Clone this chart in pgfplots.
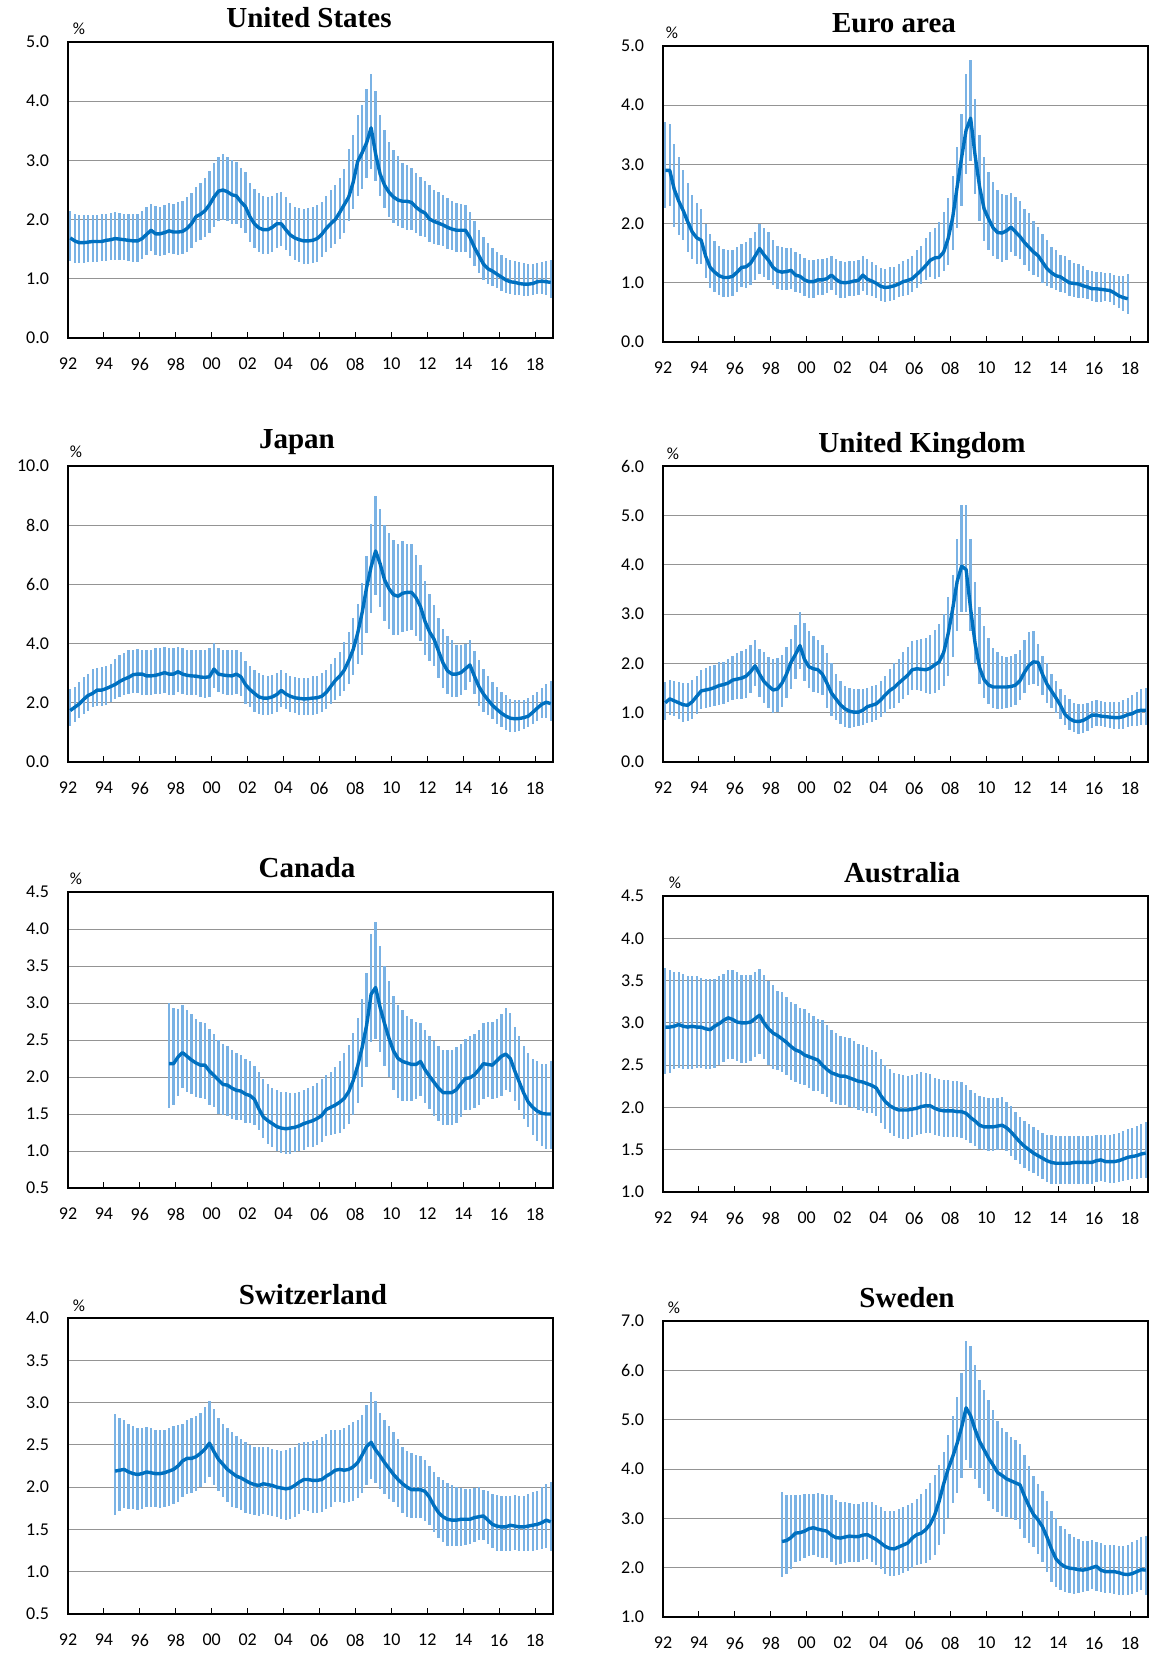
\documentclass[border=0pt]{standalone}
\usepackage{fontspec}
\setmainfont{Carlito}
\newfontfamily\titlefont{Liberation Serif}
\usepackage{pgfplots}
\usepackage{pgfplotstable}
\pgfplotsset{compat=1.18}
\definecolor{lineblue}{RGB}{0,112,192}
\definecolor{barblue}{RGB}{122,178,228}

\pgfplotstableread{
x m l h
1992.125 1.69 1.30 2.15
1992.375 1.64 1.27 2.10
1992.625 1.61 1.26 2.08
1992.875 1.61 1.27 2.08
1993.125 1.62 1.28 2.08
1993.375 1.63 1.29 2.07
1993.625 1.63 1.29 2.08
1993.875 1.63 1.30 2.09
1994.125 1.65 1.30 2.10
1994.375 1.66 1.31 2.11
1994.625 1.68 1.32 2.12
1994.875 1.67 1.32 2.11
1995.125 1.66 1.31 2.10
1995.375 1.65 1.30 2.10
1995.625 1.64 1.29 2.10
1995.875 1.64 1.29 2.10
1996.125 1.68 1.33 2.15
1996.375 1.75 1.40 2.22
1996.625 1.82 1.47 2.27
1996.875 1.76 1.40 2.23
1997.125 1.76 1.39 2.22
1997.375 1.78 1.40 2.24
1997.625 1.81 1.43 2.28
1997.875 1.79 1.42 2.27
1998.125 1.79 1.41 2.29
1998.375 1.80 1.42 2.32
1998.625 1.85 1.46 2.38
1998.875 1.93 1.52 2.45
1999.125 2.05 1.62 2.55
1999.375 2.09 1.66 2.62
1999.625 2.15 1.70 2.70
1999.875 2.25 1.78 2.82
2000.125 2.38 1.88 2.95
2000.375 2.48 1.97 3.05
2000.625 2.50 2.00 3.10
2000.875 2.47 1.97 3.05
2001.125 2.42 1.93 3.00
2001.375 2.40 1.92 2.98
2001.625 2.30 1.85 2.88
2001.875 2.22 1.78 2.80
2002.125 2.05 1.63 2.62
2002.375 1.93 1.52 2.52
2002.625 1.86 1.45 2.45
2002.875 1.83 1.42 2.40
2003.125 1.83 1.42 2.38
2003.375 1.87 1.45 2.40
2003.625 1.93 1.52 2.45
2003.875 1.93 1.55 2.47
2004.125 1.83 1.48 2.38
2004.375 1.74 1.38 2.28
2004.625 1.69 1.32 2.22
2004.875 1.66 1.28 2.20
2005.125 1.64 1.25 2.18
2005.375 1.64 1.25 2.20
2005.625 1.65 1.26 2.22
2005.875 1.68 1.28 2.25
2006.125 1.75 1.36 2.30
2006.375 1.85 1.45 2.40
2006.625 1.93 1.52 2.50
2006.875 2.00 1.58 2.58
2007.125 2.12 1.67 2.70
2007.375 2.25 1.78 2.85
2007.625 2.38 1.98 3.19
2007.875 2.63 2.18 3.43
2008.125 2.98 2.40 3.76
2008.375 3.13 2.52 3.94
2008.625 3.30 2.70 4.21
2008.875 3.55 2.85 4.46
2009.125 3.11 2.65 4.18
2009.375 2.77 2.40 3.77
2009.625 2.58 2.20 3.52
2009.875 2.46 2.05 3.31
2010.125 2.38 1.95 3.17
2010.375 2.33 1.90 3.07
2010.625 2.31 1.85 2.95
2010.875 2.31 1.83 2.92
2011.125 2.29 1.82 2.88
2011.375 2.21 1.78 2.78
2011.625 2.15 1.73 2.72
2011.875 2.11 1.70 2.65
2012.125 2.01 1.62 2.58
2012.375 1.97 1.58 2.50
2012.625 1.94 1.57 2.47
2012.875 1.91 1.55 2.42
2013.125 1.87 1.50 2.37
2013.375 1.84 1.48 2.32
2013.625 1.82 1.46 2.28
2013.875 1.82 1.45 2.27
2014.125 1.82 1.45 2.25
2014.375 1.70 1.35 2.13
2014.625 1.53 1.22 1.97
2014.875 1.39 1.10 1.82
2015.125 1.25 0.98 1.70
2015.375 1.17 0.92 1.60
2015.625 1.13 0.88 1.52
2015.875 1.08 0.84 1.45
2016.125 1.03 0.80 1.40
2016.375 0.98 0.76 1.35
2016.625 0.95 0.74 1.32
2016.875 0.94 0.73 1.30
2017.125 0.92 0.72 1.28
2017.375 0.91 0.71 1.27
2017.625 0.91 0.71 1.25
2017.875 0.92 0.72 1.25
2018.125 0.95 0.74 1.27
2018.375 0.96 0.75 1.28
2018.625 0.95 0.73 1.30
2018.875 0.94 0.68 1.31
}\dUS

\pgfplotstableread{
x m l h
1992.125 2.90 2.27 3.72
1992.375 2.90 2.30 3.68
1992.625 2.58 1.95 3.35
1992.875 2.38 1.80 3.13
1993.125 2.22 1.72 2.90
1993.375 2.03 1.52 2.68
1993.625 1.86 1.40 2.48
1993.875 1.76 1.32 2.35
1994.125 1.72 1.32 2.25
1994.375 1.45 1.08 2.00
1994.625 1.26 0.92 1.82
1994.875 1.18 0.85 1.70
1995.125 1.12 0.80 1.63
1995.375 1.09 0.76 1.57
1995.625 1.09 0.76 1.55
1995.875 1.11 0.78 1.56
1996.125 1.18 0.85 1.60
1996.375 1.26 0.93 1.65
1996.625 1.27 0.92 1.69
1996.875 1.33 0.97 1.75
1997.125 1.45 1.05 1.85
1997.375 1.58 1.15 2.00
1997.625 1.47 1.10 1.93
1997.875 1.38 1.05 1.85
1998.125 1.26 0.96 1.72
1998.375 1.20 0.90 1.63
1998.625 1.18 0.88 1.60
1998.875 1.19 0.88 1.58
1999.125 1.21 0.90 1.58
1999.375 1.13 0.85 1.52
1999.625 1.11 0.82 1.48
1999.875 1.05 0.78 1.42
2000.125 1.02 0.75 1.38
2000.375 1.02 0.75 1.38
2000.625 1.05 0.80 1.40
2000.875 1.05 0.80 1.40
2001.125 1.07 0.82 1.42
2001.375 1.13 0.87 1.45
2001.625 1.06 0.80 1.40
2001.875 1.01 0.75 1.37
2002.125 1.00 0.74 1.35
2002.375 1.01 0.77 1.36
2002.625 1.03 0.78 1.37
2002.875 1.04 0.80 1.38
2003.125 1.13 0.86 1.45
2003.375 1.06 0.80 1.40
2003.625 1.03 0.78 1.35
2003.875 0.99 0.74 1.30
2004.125 0.94 0.70 1.25
2004.375 0.92 0.68 1.24
2004.625 0.93 0.70 1.26
2004.875 0.95 0.71 1.27
2005.125 0.98 0.76 1.32
2005.375 1.02 0.78 1.37
2005.625 1.04 0.80 1.40
2005.875 1.07 0.85 1.45
2006.125 1.14 0.92 1.55
2006.375 1.21 0.98 1.63
2006.625 1.29 1.05 1.75
2006.875 1.38 1.10 1.85
2007.125 1.42 1.07 1.92
2007.375 1.43 1.10 2.03
2007.625 1.52 1.20 2.20
2007.875 1.75 1.30 2.44
2008.125 2.10 1.55 2.80
2008.375 2.62 1.92 3.30
2008.625 3.12 2.30 3.85
2008.875 3.58 2.83 4.53
2009.125 3.78 3.05 4.77
2009.375 3.15 2.50 4.10
2009.625 2.62 2.05 3.50
2009.875 2.25 1.70 3.12
2010.125 2.08 1.55 2.87
2010.375 1.93 1.45 2.70
2010.625 1.85 1.40 2.57
2010.875 1.84 1.35 2.50
2011.125 1.88 1.38 2.48
2011.375 1.94 1.52 2.51
2011.625 1.86 1.45 2.45
2011.875 1.78 1.40 2.38
2012.125 1.68 1.30 2.25
2012.375 1.60 1.20 2.18
2012.625 1.52 1.13 2.05
2012.875 1.46 1.10 1.95
2013.125 1.35 1.00 1.83
2013.375 1.24 0.95 1.72
2013.625 1.17 0.92 1.60
2013.875 1.12 0.88 1.55
2014.125 1.10 0.85 1.47
2014.375 1.05 0.83 1.45
2014.625 1.00 0.78 1.38
2014.875 0.99 0.76 1.33
2015.125 0.98 0.75 1.31
2015.375 0.95 0.74 1.28
2015.625 0.93 0.72 1.22
2015.875 0.90 0.70 1.20
2016.125 0.90 0.68 1.18
2016.375 0.89 0.68 1.18
2016.625 0.88 0.70 1.17
2016.875 0.87 0.68 1.17
2017.125 0.83 0.62 1.14
2017.375 0.78 0.57 1.12
2017.625 0.75 0.52 1.12
2017.875 0.73 0.48 1.15
}\dEA

\pgfplotstableread{
x m l h
1992.125 1.74 1.23 2.45
1992.375 1.85 1.35 2.55
1992.625 1.96 1.48 2.70
1992.875 2.12 1.62 2.88
1993.125 2.25 1.72 2.97
1993.375 2.32 1.85 3.15
1993.625 2.43 1.88 3.18
1993.875 2.43 1.90 3.20
1994.125 2.48 1.92 3.25
1994.375 2.55 2.02 3.30
1994.625 2.62 2.12 3.48
1994.875 2.72 2.20 3.60
1995.125 2.80 2.25 3.68
1995.375 2.86 2.30 3.78
1995.625 2.95 2.32 3.80
1995.875 2.97 2.32 3.82
1996.125 2.97 2.25 3.78
1996.375 2.91 2.25 3.78
1996.625 2.91 2.28 3.80
1996.875 2.93 2.30 3.85
1997.125 2.97 2.30 3.85
1997.375 3.02 2.32 3.90
1997.625 2.97 2.28 3.85
1997.875 2.97 2.28 3.85
1998.125 3.05 2.35 3.90
1998.375 2.97 2.30 3.85
1998.625 2.93 2.27 3.80
1998.875 2.91 2.25 3.80
1999.125 2.90 2.25 3.80
1999.375 2.87 2.18 3.78
1999.625 2.86 2.15 3.78
1999.875 2.88 2.20 3.85
2000.125 3.14 2.50 4.02
2000.375 2.97 2.35 3.85
2000.625 2.94 2.30 3.80
2000.875 2.92 2.28 3.78
2001.125 2.91 2.28 3.78
2001.375 2.97 2.30 3.78
2001.625 2.88 2.22 3.70
2001.875 2.62 1.95 3.40
2002.125 2.45 1.85 3.25
2002.375 2.32 1.70 3.10
2002.625 2.20 1.62 3.00
2002.875 2.16 1.58 2.95
2003.125 2.16 1.58 2.92
2003.375 2.20 1.62 2.95
2003.625 2.28 1.70 3.00
2003.875 2.42 1.85 3.10
2004.125 2.30 1.80 3.00
2004.375 2.22 1.70 2.92
2004.625 2.17 1.65 2.88
2004.875 2.15 1.60 2.85
2005.125 2.13 1.58 2.85
2005.375 2.14 1.58 2.85
2005.625 2.16 1.60 2.90
2005.875 2.17 1.62 2.92
2006.125 2.22 1.68 3.00
2006.375 2.35 1.78 3.10
2006.625 2.55 1.95 3.30
2006.875 2.75 2.10 3.50
2007.125 2.90 2.22 3.72
2007.375 3.10 2.40 4.05
2007.625 3.42 2.65 4.40
2007.875 3.80 2.95 4.85
2008.125 4.35 3.30 5.35
2008.375 5.05 3.60 6.05
2008.625 5.90 4.35 6.95
2008.875 6.60 5.05 8.04
2009.125 7.13 5.65 9.00
2009.375 6.70 5.25 8.56
2009.625 6.15 4.75 8.00
2009.875 5.85 4.50 7.73
2010.125 5.65 4.30 7.50
2010.375 5.60 4.30 7.37
2010.625 5.70 4.38 7.48
2010.875 5.73 4.42 7.36
2011.125 5.73 4.45 7.36
2011.375 5.55 4.25 7.00
2011.625 5.25 4.10 6.66
2011.875 4.75 3.60 6.10
2012.125 4.40 3.40 5.69
2012.375 4.15 3.25 5.32
2012.625 3.75 2.85 4.85
2012.875 3.35 2.50 4.50
2013.125 3.08 2.30 4.26
2013.375 2.97 2.20 4.12
2013.625 2.97 2.20 3.95
2013.875 3.02 2.25 3.95
2014.125 3.15 2.42 3.97
2014.375 3.28 2.70 4.13
2014.625 2.90 2.30 3.75
2014.875 2.55 1.90 3.45
2015.125 2.30 1.70 3.15
2015.375 2.10 1.58 2.90
2015.625 1.92 1.45 2.70
2015.875 1.78 1.30 2.55
2016.125 1.65 1.18 2.35
2016.375 1.55 1.08 2.25
2016.625 1.48 1.03 2.12
2016.875 1.46 1.03 2.10
2017.125 1.47 1.05 2.08
2017.375 1.50 1.10 2.08
2017.625 1.55 1.18 2.15
2017.875 1.68 1.30 2.25
2018.125 1.82 1.40 2.35
2018.375 1.95 1.48 2.50
2018.625 2.02 1.50 2.65
2018.875 1.97 1.40 2.75
}\dJP

\pgfplotstableread{
x m l h
1992.125 1.20 0.85 1.63
1992.375 1.28 0.95 1.67
1992.625 1.24 0.93 1.65
1992.875 1.20 0.88 1.62
1993.125 1.16 0.82 1.60
1993.375 1.15 0.83 1.60
1993.625 1.22 0.88 1.67
1993.875 1.33 0.97 1.75
1994.125 1.44 1.08 1.87
1994.375 1.46 1.10 1.90
1994.625 1.48 1.12 1.95
1994.875 1.51 1.13 1.97
1995.125 1.55 1.15 2.02
1995.375 1.57 1.18 2.03
1995.625 1.60 1.22 2.08
1995.875 1.66 1.25 2.15
1996.125 1.68 1.27 2.20
1996.375 1.70 1.28 2.25
1996.625 1.74 1.30 2.30
1996.875 1.83 1.40 2.38
1997.125 1.95 1.55 2.48
1997.375 1.78 1.32 2.30
1997.625 1.63 1.20 2.22
1997.875 1.54 1.10 2.13
1998.125 1.46 1.00 2.08
1998.375 1.48 1.02 2.10
1998.625 1.60 1.12 2.17
1998.875 1.78 1.30 2.33
1999.125 2.02 1.48 2.50
1999.375 2.18 1.68 2.77
1999.625 2.36 1.88 3.05
1999.875 2.08 1.65 2.82
2000.125 1.93 1.50 2.65
2000.375 1.89 1.42 2.55
2000.625 1.87 1.40 2.48
2000.875 1.78 1.35 2.38
2001.125 1.60 1.10 2.20
2001.375 1.40 0.93 2.00
2001.625 1.28 0.85 1.78
2001.875 1.16 0.77 1.65
2002.125 1.08 0.70 1.55
2002.375 1.03 0.68 1.50
2002.625 1.01 0.70 1.47
2002.875 1.01 0.72 1.47
2003.125 1.05 0.75 1.48
2003.375 1.12 0.80 1.50
2003.625 1.15 0.82 1.55
2003.875 1.18 0.85 1.57
2004.125 1.26 0.92 1.65
2004.375 1.36 1.00 1.75
2004.625 1.45 1.08 1.88
2004.875 1.51 1.10 2.00
2005.125 1.60 1.20 2.08
2005.375 1.68 1.28 2.23
2005.625 1.76 1.35 2.33
2005.875 1.87 1.45 2.45
2006.125 1.89 1.45 2.48
2006.375 1.88 1.43 2.50
2006.625 1.87 1.40 2.52
2006.875 1.90 1.38 2.58
2007.125 1.97 1.40 2.68
2007.375 2.03 1.45 2.80
2007.625 2.22 1.55 3.00
2007.875 2.60 1.75 3.35
2008.125 3.10 2.13 3.80
2008.375 3.66 2.65 4.52
2008.625 3.97 3.05 5.20
2008.875 3.90 3.05 5.20
2009.125 3.10 2.65 4.53
2009.375 2.40 2.00 3.65
2009.625 1.91 1.58 3.15
2009.875 1.67 1.30 2.75
2010.125 1.56 1.18 2.52
2010.375 1.52 1.10 2.32
2010.625 1.52 1.08 2.22
2010.875 1.52 1.08 2.15
2011.125 1.52 1.10 2.13
2011.375 1.53 1.12 2.15
2011.625 1.56 1.15 2.18
2011.875 1.65 1.25 2.27
2012.125 1.82 1.40 2.47
2012.375 1.96 1.57 2.63
2012.625 2.03 1.58 2.65
2012.875 2.02 1.55 2.40
2013.125 1.78 1.35 2.15
2013.375 1.58 1.20 2.00
2013.625 1.44 1.10 1.78
2013.875 1.30 1.00 1.65
2014.125 1.15 0.88 1.48
2014.375 0.97 0.75 1.35
2014.625 0.88 0.65 1.27
2014.875 0.83 0.60 1.20
2015.125 0.82 0.57 1.18
2015.375 0.84 0.58 1.18
2015.625 0.89 0.62 1.20
2015.875 0.95 0.68 1.24
2016.125 0.95 0.72 1.25
2016.375 0.93 0.72 1.23
2016.625 0.92 0.70 1.22
2016.875 0.91 0.68 1.22
2017.125 0.90 0.67 1.22
2017.375 0.90 0.66 1.22
2017.625 0.92 0.67 1.25
2017.875 0.96 0.70 1.30
2018.125 0.98 0.72 1.35
2018.375 1.03 0.73 1.42
2018.625 1.05 0.74 1.48
2018.875 1.05 0.74 1.50
}\dUK

\pgfplotstableread{
x m l h
1997.625 2.18 1.58 3.00
1997.875 2.18 1.62 2.93
1998.125 2.27 1.75 2.92
1998.375 2.33 1.85 2.97
1998.625 2.28 1.80 2.90
1998.875 2.23 1.77 2.85
1999.125 2.19 1.73 2.78
1999.375 2.16 1.72 2.75
1999.625 2.16 1.70 2.73
1999.875 2.08 1.62 2.65
2000.125 2.02 1.60 2.58
2000.375 1.96 1.50 2.50
2000.625 1.90 1.48 2.45
2000.875 1.89 1.47 2.42
2001.125 1.85 1.43 2.37
2001.375 1.82 1.42 2.33
2001.625 1.81 1.42 2.30
2001.875 1.77 1.38 2.25
2002.125 1.75 1.38 2.22
2002.375 1.70 1.35 2.15
2002.625 1.57 1.28 2.07
2002.875 1.46 1.17 1.97
2003.125 1.41 1.10 1.90
2003.375 1.37 1.05 1.85
2003.625 1.33 1.00 1.82
2003.875 1.31 0.97 1.80
2004.125 1.30 0.96 1.80
2004.375 1.31 0.96 1.78
2004.625 1.32 0.98 1.78
2004.875 1.34 1.00 1.80
2005.125 1.37 1.02 1.82
2005.375 1.39 1.05 1.85
2005.625 1.41 1.06 1.88
2005.875 1.44 1.08 1.92
2006.125 1.48 1.12 1.97
2006.375 1.56 1.20 2.03
2006.625 1.59 1.22 2.07
2006.875 1.62 1.23 2.13
2007.125 1.66 1.25 2.22
2007.375 1.71 1.30 2.33
2007.625 1.80 1.37 2.43
2007.875 1.95 1.48 2.60
2008.125 2.15 1.65 2.80
2008.375 2.40 1.86 3.05
2008.625 2.70 2.13 3.40
2008.875 3.12 2.47 3.93
2009.125 3.21 2.52 4.10
2009.375 2.94 2.34 3.77
2009.625 2.72 2.15 3.50
2009.875 2.52 2.00 3.30
2010.125 2.35 1.83 3.10
2010.375 2.25 1.72 2.97
2010.625 2.21 1.68 2.90
2010.875 2.19 1.68 2.83
2011.125 2.17 1.67 2.78
2011.375 2.17 1.70 2.75
2011.625 2.21 1.75 2.73
2011.875 2.10 1.65 2.63
2012.125 2.01 1.57 2.55
2012.375 1.93 1.47 2.48
2012.625 1.85 1.40 2.42
2012.875 1.79 1.35 2.37
2013.125 1.79 1.35 2.37
2013.375 1.79 1.35 2.37
2013.625 1.83 1.38 2.40
2013.875 1.91 1.46 2.45
2014.125 1.98 1.55 2.52
2014.375 1.99 1.56 2.55
2014.625 2.03 1.58 2.58
2014.875 2.10 1.62 2.63
2015.125 2.18 1.70 2.73
2015.375 2.17 1.73 2.75
2015.625 2.16 1.70 2.75
2015.875 2.22 1.72 2.78
2016.125 2.28 1.75 2.85
2016.375 2.31 1.83 2.93
2016.625 2.25 1.80 2.87
2016.875 2.08 1.68 2.67
2017.125 1.93 1.55 2.55
2017.375 1.78 1.43 2.42
2017.625 1.66 1.33 2.33
2017.875 1.59 1.22 2.25
2018.125 1.54 1.13 2.22
2018.375 1.51 1.07 2.18
2018.625 1.50 1.03 2.18
2018.875 1.50 1.03 2.22
}\dCA

\pgfplotstableread{
x m l h
1992.125 2.95 2.39 3.65
1992.375 2.95 2.41 3.63
1992.625 2.96 2.45 3.60
1992.875 2.98 2.47 3.60
1993.125 2.96 2.46 3.58
1993.375 2.95 2.46 3.55
1993.625 2.96 2.46 3.55
1993.875 2.95 2.47 3.55
1994.125 2.95 2.47 3.53
1994.375 2.93 2.46 3.52
1994.625 2.92 2.45 3.52
1994.875 2.96 2.47 3.52
1995.125 2.99 2.50 3.55
1995.375 3.03 2.54 3.58
1995.625 3.06 2.57 3.62
1995.875 3.04 2.57 3.62
1996.125 3.01 2.55 3.60
1996.375 3.00 2.53 3.57
1996.625 3.00 2.53 3.57
1996.875 3.01 2.55 3.57
1997.125 3.05 2.60 3.60
1997.375 3.09 2.63 3.64
1997.625 3.00 2.57 3.57
1997.875 2.93 2.50 3.50
1998.125 2.88 2.46 3.45
1998.375 2.85 2.44 3.38
1998.625 2.81 2.42 3.36
1998.875 2.77 2.38 3.30
1999.125 2.72 2.33 3.25
1999.375 2.68 2.30 3.22
1999.625 2.66 2.28 3.18
1999.875 2.62 2.26 3.16
2000.125 2.60 2.23 3.12
2000.375 2.58 2.20 3.08
2000.625 2.56 2.19 3.05
2000.875 2.50 2.16 3.03
2001.125 2.45 2.12 2.97
2001.375 2.41 2.07 2.92
2001.625 2.39 2.04 2.88
2001.875 2.37 2.03 2.85
2002.125 2.37 2.03 2.83
2002.375 2.35 2.01 2.82
2002.625 2.33 1.99 2.78
2002.875 2.31 1.97 2.75
2003.125 2.30 1.96 2.74
2003.375 2.28 1.94 2.72
2003.625 2.26 1.93 2.68
2003.875 2.23 1.90 2.65
2004.125 2.14 1.82 2.57
2004.375 2.07 1.75 2.50
2004.625 2.02 1.70 2.45
2004.875 1.99 1.66 2.41
2005.125 1.97 1.64 2.39
2005.375 1.97 1.63 2.38
2005.625 1.97 1.63 2.37
2005.875 1.98 1.65 2.38
2006.125 1.99 1.67 2.40
2006.375 2.01 1.69 2.42
2006.625 2.02 1.70 2.41
2006.875 2.02 1.70 2.39
2007.125 1.99 1.68 2.35
2007.375 1.97 1.66 2.34
2007.625 1.96 1.65 2.33
2007.875 1.96 1.65 2.32
2008.125 1.96 1.65 2.31
2008.375 1.95 1.65 2.31
2008.625 1.95 1.64 2.30
2008.875 1.93 1.62 2.26
2009.125 1.88 1.58 2.21
2009.375 1.84 1.54 2.17
2009.625 1.79 1.51 2.13
2009.875 1.77 1.50 2.12
2010.125 1.77 1.49 2.11
2010.375 1.77 1.49 2.11
2010.625 1.78 1.50 2.11
2010.875 1.79 1.51 2.12
2011.125 1.76 1.48 2.06
2011.375 1.71 1.43 2.02
2011.625 1.65 1.38 1.95
2011.875 1.59 1.33 1.89
2012.125 1.54 1.28 1.84
2012.375 1.50 1.25 1.80
2012.625 1.46 1.22 1.77
2012.875 1.43 1.19 1.73
2013.125 1.40 1.15 1.70
2013.375 1.37 1.12 1.68
2013.625 1.35 1.10 1.67
2013.875 1.34 1.09 1.66
2014.125 1.34 1.09 1.66
2014.375 1.34 1.09 1.66
2014.625 1.34 1.10 1.66
2014.875 1.35 1.10 1.66
2015.125 1.35 1.10 1.66
2015.375 1.35 1.10 1.66
2015.625 1.35 1.10 1.66
2015.875 1.35 1.10 1.66
2016.125 1.37 1.12 1.67
2016.375 1.38 1.13 1.68
2016.625 1.36 1.12 1.68
2016.875 1.36 1.11 1.68
2017.125 1.36 1.11 1.69
2017.375 1.37 1.12 1.70
2017.625 1.39 1.13 1.72
2017.875 1.41 1.14 1.74
2018.125 1.42 1.15 1.76
2018.375 1.43 1.15 1.78
2018.625 1.45 1.16 1.80
2018.875 1.46 1.16 1.83
}\dAU

\pgfplotstableread{
x m l h
1994.625 2.19 1.67 2.86
1994.875 2.20 1.72 2.82
1995.125 2.21 1.75 2.80
1995.375 2.18 1.74 2.75
1995.625 2.16 1.74 2.72
1995.875 2.15 1.73 2.70
1996.125 2.16 1.74 2.70
1996.375 2.18 1.76 2.71
1996.625 2.17 1.76 2.70
1996.875 2.16 1.76 2.68
1997.125 2.16 1.75 2.67
1997.375 2.17 1.76 2.67
1997.625 2.19 1.78 2.70
1997.875 2.21 1.80 2.72
1998.125 2.25 1.82 2.73
1998.375 2.31 1.88 2.75
1998.625 2.34 1.92 2.80
1998.875 2.34 1.93 2.82
1999.125 2.36 1.95 2.84
1999.375 2.40 2.00 2.88
1999.625 2.45 2.05 2.95
1999.875 2.52 2.12 3.02
2000.125 2.42 2.03 2.92
2000.375 2.33 1.95 2.82
2000.625 2.27 1.88 2.75
2000.875 2.21 1.82 2.70
2001.125 2.17 1.77 2.65
2001.375 2.13 1.75 2.60
2001.625 2.11 1.73 2.57
2001.875 2.08 1.70 2.53
2002.125 2.05 1.68 2.50
2002.375 2.03 1.67 2.48
2002.625 2.02 1.66 2.47
2002.875 2.04 1.68 2.48
2003.125 2.03 1.67 2.47
2003.375 2.02 1.66 2.45
2003.625 2.00 1.65 2.44
2003.875 1.99 1.62 2.43
2004.125 1.98 1.61 2.44
2004.375 1.99 1.62 2.46
2004.625 2.02 1.65 2.48
2004.875 2.06 1.68 2.52
2005.125 2.09 1.73 2.53
2005.375 2.09 1.72 2.53
2005.625 2.08 1.70 2.54
2005.875 2.08 1.70 2.56
2006.125 2.09 1.71 2.59
2006.375 2.13 1.74 2.63
2006.625 2.16 1.77 2.68
2006.875 2.20 1.82 2.67
2007.125 2.21 1.82 2.68
2007.375 2.20 1.81 2.70
2007.625 2.21 1.82 2.73
2007.875 2.24 1.84 2.77
2008.125 2.29 1.87 2.80
2008.375 2.38 1.93 2.85
2008.625 2.48 2.02 2.97
2008.875 2.53 2.10 3.12
2009.125 2.44 2.05 3.02
2009.375 2.37 1.98 2.88
2009.625 2.29 1.92 2.80
2009.875 2.22 1.86 2.72
2010.125 2.15 1.82 2.65
2010.375 2.09 1.76 2.57
2010.625 2.04 1.70 2.48
2010.875 2.00 1.65 2.43
2011.125 1.97 1.63 2.40
2011.375 1.97 1.63 2.38
2011.625 1.97 1.64 2.37
2011.875 1.95 1.60 2.32
2012.125 1.88 1.55 2.25
2012.375 1.78 1.47 2.18
2012.625 1.70 1.40 2.12
2012.875 1.65 1.35 2.08
2013.125 1.62 1.31 2.05
2013.375 1.61 1.30 2.02
2013.625 1.61 1.30 2.00
2013.875 1.62 1.31 1.99
2014.125 1.62 1.32 1.98
2014.375 1.62 1.33 1.98
2014.625 1.64 1.35 1.99
2014.875 1.65 1.37 2.00
2015.125 1.66 1.38 1.97
2015.375 1.61 1.33 1.95
2015.625 1.56 1.28 1.92
2015.875 1.54 1.25 1.91
2016.125 1.53 1.24 1.90
2016.375 1.53 1.24 1.90
2016.625 1.55 1.25 1.90
2016.875 1.54 1.26 1.91
2017.125 1.53 1.25 1.90
2017.375 1.53 1.24 1.90
2017.625 1.54 1.24 1.92
2017.875 1.55 1.25 1.94
2018.125 1.56 1.26 1.96
2018.375 1.58 1.27 2.00
2018.625 1.61 1.28 2.04
2018.875 1.59 1.24 2.06
}\dCH

\pgfplotstableread{
x m l h
1998.625 2.53 1.81 3.53
1998.875 2.55 1.88 3.47
1999.125 2.61 1.98 3.47
1999.375 2.70 2.12 3.48
1999.625 2.71 2.14 3.47
1999.875 2.74 2.20 3.50
2000.125 2.79 2.24 3.49
2000.375 2.81 2.26 3.50
2000.625 2.78 2.22 3.52
2000.875 2.76 2.20 3.50
2001.125 2.74 2.20 3.48
2001.375 2.66 2.12 3.48
2001.625 2.61 2.06 3.38
2001.875 2.60 2.07 3.33
2002.125 2.62 2.10 3.33
2002.375 2.64 2.12 3.32
2002.625 2.63 2.12 3.30
2002.875 2.63 2.12 3.30
2003.125 2.66 2.15 3.34
2003.375 2.67 2.17 3.34
2003.625 2.62 2.12 3.34
2003.875 2.57 2.05 3.28
2004.125 2.50 1.98 3.22
2004.375 2.43 1.88 3.15
2004.625 2.39 1.84 3.14
2004.875 2.38 1.84 3.15
2005.125 2.42 1.85 3.19
2005.375 2.46 1.90 3.24
2005.625 2.50 1.93 3.28
2005.875 2.60 2.00 3.32
2006.125 2.67 2.06 3.40
2006.375 2.70 2.08 3.50
2006.625 2.77 2.10 3.60
2006.875 2.88 2.15 3.72
2007.125 3.07 2.25 3.88
2007.375 3.35 2.45 4.08
2007.625 3.70 2.68 4.35
2007.875 4.00 3.00 4.68
2008.125 4.25 3.32 5.07
2008.375 4.52 3.52 5.45
2008.625 4.85 3.82 5.95
2008.875 5.24 4.19 6.60
2009.125 5.08 4.02 6.50
2009.375 4.80 3.80 6.10
2009.625 4.56 3.62 5.80
2009.875 4.39 3.49 5.60
2010.125 4.22 3.35 5.40
2010.375 4.08 3.18 5.20
2010.625 3.93 3.12 4.97
2010.875 3.87 3.05 4.83
2011.125 3.80 3.02 4.75
2011.375 3.76 3.00 4.65
2011.625 3.72 2.96 4.58
2011.875 3.68 2.78 4.50
2012.125 3.45 2.61 4.28
2012.375 3.25 2.51 4.07
2012.625 3.08 2.41 3.85
2012.875 2.97 2.28 3.70
2013.125 2.83 2.11 3.55
2013.375 2.62 1.91 3.35
2013.625 2.38 1.71 3.15
2013.875 2.18 1.60 3.00
2014.125 2.08 1.54 2.85
2014.375 2.02 1.50 2.78
2014.625 1.99 1.48 2.68
2014.875 1.98 1.47 2.62
2015.125 1.96 1.48 2.58
2015.375 1.95 1.50 2.55
2015.625 1.97 1.52 2.55
2015.875 2.00 1.57 2.57
2016.125 2.03 1.52 2.53
2016.375 1.95 1.50 2.50
2016.625 1.92 1.48 2.46
2016.875 1.92 1.48 2.45
2017.125 1.92 1.46 2.45
2017.375 1.90 1.44 2.43
2017.625 1.87 1.44 2.43
2017.875 1.86 1.45 2.45
2018.125 1.88 1.47 2.52
2018.375 1.92 1.50 2.57
2018.625 1.96 1.54 2.62
2018.875 1.95 1.44 2.65
}\dSE

\pgfplotsset{
  panel/.style={
    scale only axis, width=242.5pt, height=148pt, anchor=north west,
    xmin=1992, xmax=2019,
    xtick={1992,1994,...,2018},
    xticklabels={92,94,96,98,00,02,04,06,08,10,12,14,16,18},
    xtick pos=left, tick align=inside, major tick length=3pt,
    ytick pos=left, ytick style={draw=none},
    xtick style={line width=0.5pt, black},
    ymajorgrids, grid style={line width=0.45pt, color=black!42},
    axis line style={line width=0.7pt, black},
    tick label style={font=\fontsize{9}{10}\selectfont},
    /pgf/number format/assume math mode=true,
    yticklabel style={/pgf/number format/fixed, /pgf/number format/fixed zerofill, /pgf/number format/precision=1, xshift=-6pt},
    xticklabel style={yshift=-6.5pt},
  },
  bands/.style={draw=none, mark=none, forget plot,
    error bars/.cd, y dir=both, y explicit, error mark=none,
    error bar style={draw=barblue, line width=1.15pt}},
  midline/.style={lineblue, line width=1.7pt, mark=none, line join=round},
}
\newcommand{\panelplot}[1]{%
  \addplot[bands] table[x=x, y=m, y error plus expr=\thisrow{h}-\thisrow{m}, y error minus expr=\thisrow{m}-\thisrow{l}] {#1};
  \addplot[midline] table[x=x, y=m] {#1};
}
\newcommand{\ttl}[1]{{\titlefont\bfseries\fontsize{14.5}{16}\selectfont #1}}
\newcommand{\pct}{{\fontsize{8.5}{10}\selectfont\%}}

\begin{document}
\begin{tikzpicture}
\useasboundingbox (0pt,0pt) rectangle (575.5pt,-827.5pt);

\begin{axis}[panel, at={(34pt,-21pt)}, ymin=0, ymax=5, ytick={0,1,...,5}]
\panelplot{\dUS}
\end{axis}
\begin{axis}[panel, at={(331.5pt,-23pt)}, ymin=0, ymax=5, ytick={0,1,...,5}]
\panelplot{\dEA}
\end{axis}
\begin{axis}[panel, at={(34pt,-233pt)}, ymin=0, ymax=10, ytick={0,2,...,10}]
\panelplot{\dJP}
\end{axis}
\begin{axis}[panel, at={(331.5pt,-233pt)}, ymin=0, ymax=6, ytick={0,1,...,6}]
\panelplot{\dUK}
\end{axis}
\begin{axis}[panel, at={(34pt,-446pt)}, ymin=0.5, ymax=4.5, ytick={0.5,1.0,...,4.5}]
\panelplot{\dCA}
\end{axis}
\begin{axis}[panel, at={(331.5pt,-448pt)}, ymin=1, ymax=4.5, ytick={1.0,1.5,...,4.5}]
\panelplot{\dAU}
\end{axis}
\begin{axis}[panel, at={(34pt,-659pt)}, ymin=0.5, ymax=4, ytick={0.5,1.0,...,4.0}]
\panelplot{\dCH}
\end{axis}
\begin{axis}[panel, at={(331.5pt,-660.5pt)}, ymin=1, ymax=7, ytick={1,2,...,7}]
\panelplot{\dSE}
\end{axis}

\node[anchor=base] at (154.5pt,-13.5pt) {\ttl{United States}};
\node[anchor=base] at (447pt,-16pt) {\ttl{Euro area}};
\node[anchor=base] at (148.5pt,-224pt) {\ttl{Japan}};
\node[anchor=base] at (461pt,-226pt) {\ttl{United Kingdom}};
\node[anchor=base] at (153.5pt,-438.5pt) {\ttl{Canada}};
\node[anchor=base] at (451pt,-441pt) {\ttl{Australia}};
\node[anchor=base] at (156.5pt,-652pt) {\ttl{Switzerland}};
\node[anchor=base] at (453.5pt,-653.5pt) {\ttl{Sweden}};

\node at (39.5pt,-14.5pt) {\pct};
\node at (336pt,-16.5pt) {\pct};
\node at (38pt,-226pt) {\pct};
\node at (336.5pt,-227pt) {\pct};
\node at (38pt,-439.5pt) {\pct};
\node at (337.5pt,-441.5pt) {\pct};
\node at (39.5pt,-653pt) {\pct};
\node at (337pt,-654pt) {\pct};
\end{tikzpicture}
\end{document}
